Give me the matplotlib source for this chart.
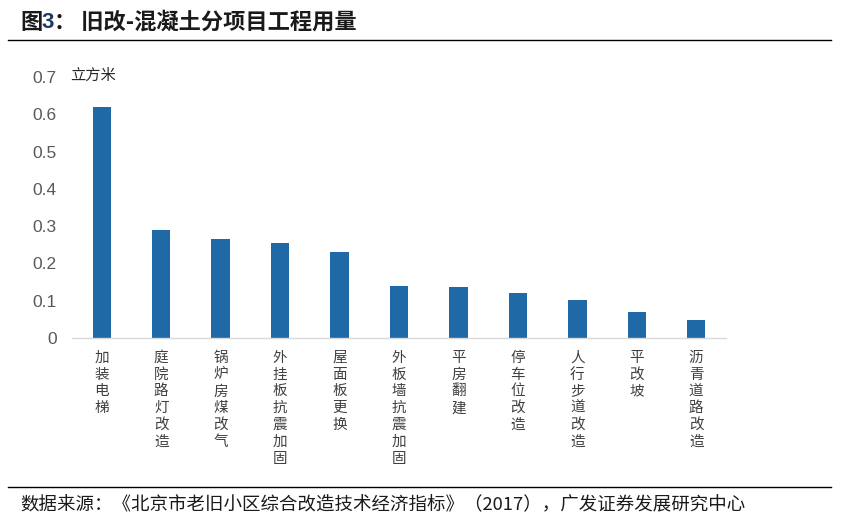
import numpy as np
import matplotlib
matplotlib.use('Agg')
import matplotlib.pyplot as plt

plt.rcParams['font.family'] = ['Noto Sans CJK SC', 'DejaVu Sans']
plt.rcParams['axes.unicode_minus'] = False

# 数据
categories = ['加装电梯', '庭院路灯改造', '锅炉房煤改气', '外挂板抗震加固', '屋面板更换',
              '外板墙抗震加固', '平房翻建', '停车位改造', '人行步道改造', '平改坡', '沥青道路改造']
values = [0.62, 0.29, 0.265, 0.256, 0.231, 0.139, 0.137, 0.122, 0.103, 0.069, 0.049]
yticks = [0, 0.1, 0.2, 0.3, 0.4, 0.5, 0.6, 0.7]
ytick_labels = ['0', '0.1', '0.2', '0.3', '0.4', '0.5', '0.6', '0.7']

fig = plt.figure(figsize=(8.48, 5.3), dpi=100)
ax = fig.add_axes([0.085, 0.362, 0.771, 0.493])

x = np.arange(len(categories))
ax.bar(x, values, width=0.31, color='#1F69A6', zorder=2)
ax.set_xlim(-0.5, len(categories) - 0.5)
ax.set_ylim(0, 0.7)
ax.set_yticks(yticks)
ax.set_yticklabels(ytick_labels, family=['Liberation Sans', 'DejaVu Sans'],
                   fontsize=12.5, color='#595959')
ax.tick_params(axis='y', length=0, pad=11)
ax.set_xticks(x)
ax.set_xticklabels(['\n'.join(c) for c in categories], fontsize=10.5, color='#404040',
                   linespacing=1.26, va='top')
ax.tick_params(axis='x', length=0, pad=9)
for s in ['top', 'right', 'left']:
    ax.spines[s].set_visible(False)
ax.spines['bottom'].set_color('#D9D9D9')
ax.spines['bottom'].set_linewidth(1.0)

# 单位
fig.text(0.083, 0.858, '立方米', fontsize=11, color='#262626', va='center', ha='left')

# 标题
fig.text(0.024, 0.958, '图', fontsize=16, fontweight='bold', color='#1a1a1a', va='center')
fig.text(0.049, 0.958, '3', fontsize=16, fontweight='bold', color='#1F3864', va='center',
         family=['Liberation Sans', 'DejaVu Sans'])
fig.text(0.064, 0.958, '： 旧改-混凝土分项目工程用量', fontsize=16, fontweight='bold',
         color='#1a1a1a', va='center')
fig.add_artist(plt.Line2D([0.01, 0.98], [0.925, 0.925], color='black', linewidth=1.0))

# 数据来源
fig.add_artist(plt.Line2D([0.01, 0.98], [0.081, 0.081], color='black', linewidth=1.0))
fig.text(0.024, 0.046, '数据来源：《北京市老旧小区综合改造技术经济指标》（2017），广发证券发展研究中心',
         fontsize=13.3, color='#1a1a1a', va='center')

fig.savefig('out.png', dpi=100)
